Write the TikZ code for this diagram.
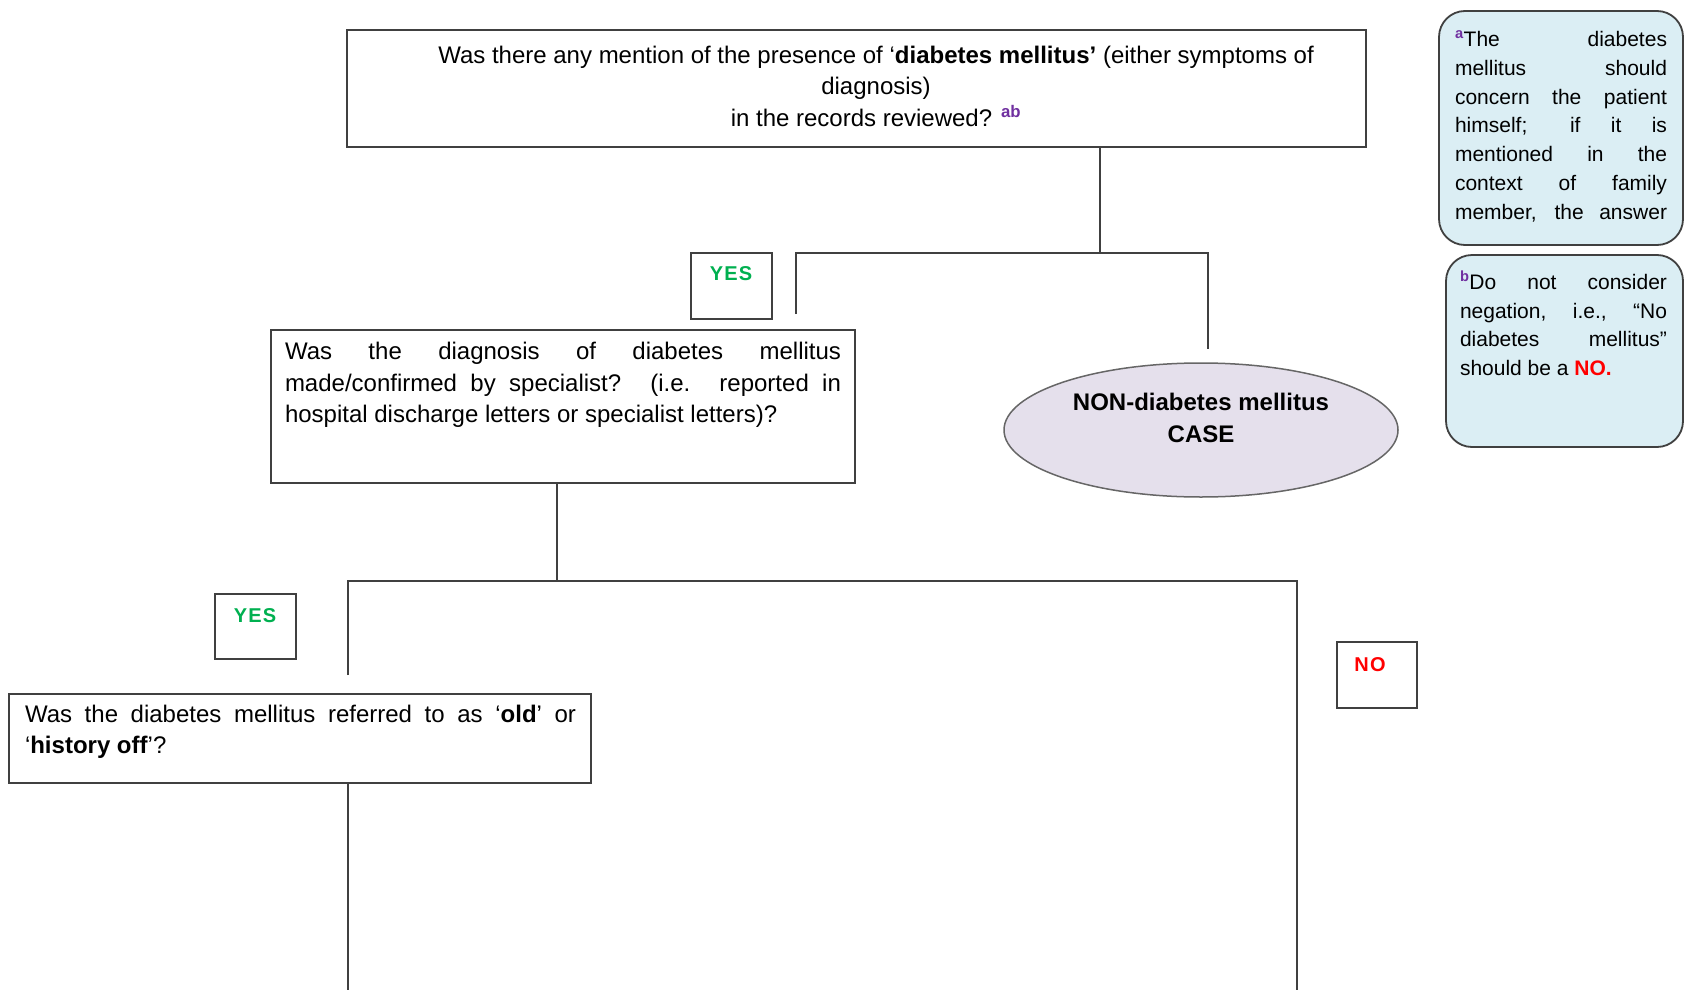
\documentclass[tikz,border=0pt]{standalone}
\usepackage{fontspec}
\setmainfont{Liberation Sans}
\usetikzlibrary{shapes.geometric}
\setlength\parindent{0pt}
\definecolor{linec}{HTML}{404040}
\definecolor{yesc}{HTML}{00B050}
\definecolor{noc}{HTML}{FF0000}
\definecolor{supc}{HTML}{7030A0}
\definecolor{notefill}{HTML}{DBEEF4}
\definecolor{casefill}{HTML}{E5E0EC}
\newcommand{\supmark}[1]{\textsuperscript{\color{supc}\bfseries #1}}
\tikzset{
  box/.style={draw=linec, line width=1.8pt, inner sep=0pt, fill=white},
  conn/.style={draw=linec, line width=1.8pt},
  qtext/.style={inner sep=0pt, font=\fontsize{24}{31.5}\selectfont},
  notebox/.style={draw=linec, line width=1.8pt, inner sep=0pt, fill=notefill, rounded corners=26pt},
  notetext/.style={inner sep=0pt, text width=212pt, align=justify, font=\fontsize{21}{28.8}\selectfont},
  answer/.style={inner sep=0pt, font=\fontsize{20}{24}\selectfont\bfseries\addfontfeature{LetterSpace=6}},
  casenode/.style={ellipse, draw=linec!80, line width=1.5pt, fill=casefill, inner sep=0pt}
}
\begin{document}
\begin{tikzpicture}[x=1pt,y=-1pt]
\useasboundingbox (0,0) rectangle (1686,990);
\fill[white] (0,0) rectangle (1686,990);

% question boxes and answer boxes
\node[box, minimum width=1019pt, minimum height=117pt] (q1) at (856.5,88.5) {};
\node[qtext, align=center] (q1t) at (876,86)
  {Was there any mention of the presence of ‘\textbf{diabetes mellitus’} (either symptoms of\\
   diagnosis)\\ in the records reviewed? \supmark{ab}};

\node[box, minimum width=81pt, minimum height=66pt] (yes1) at (731.5,286) {};
\node[answer, text=yesc] (yes1t) at (731,274) {YES};

\node[box, minimum width=584pt, minimum height=153pt] (q2) at (563,406.5) {};
\node[qtext, text width=556pt, align=justify] (q2t) at (563,385)
  {Was the diagnosis of diabetes mellitus\linebreak made/confirmed by specialist? (i.e. reported in\linebreak hospital discharge letters or specialist letters)?};

\node[casenode, minimum width=394pt, minimum height=134pt] (case) at (1201,430) {};
\node[qtext, align=center, font=\fontsize{24}{32}\selectfont\bfseries] (caset) at (1201,418)
  {NON-diabetes mellitus\\CASE};

\node[box, minimum width=81pt, minimum height=65pt] (yes2) at (255.5,626.5) {};
\node[answer, text=yesc] (yes2t) at (255,616) {YES};

\node[box, minimum width=80pt, minimum height=66pt] (no2) at (1377,675) {};
\node[answer, text=noc] (no2t) at (1370,665) {NO};

\node[box, minimum width=582pt, minimum height=89pt] (q3) at (300,738.5) {};
\node[qtext, text width=551pt, align=justify] (q3t) at (300.5,732)
  {Was the diabetes mellitus referred to as ‘\textbf{old}’ or\linebreak ‘\textbf{history off}’?};

% footnote boxes
\node[notebox, minimum width=244pt, minimum height=234pt] (notea) at (1561,128) {};
\node[notetext] (noteat) at (1561,126.5)
  {\supmark{a}The diabetes\linebreak mellitus should\linebreak concern the patient\linebreak himself; if it is\linebreak mentioned in the\linebreak context of family\linebreak \makebox[\linewidth][s]{member, the answer}};

\node[notebox, minimum width=237pt, minimum height=192pt] (noteb) at (1564.5,351) {};
\node[notetext, text width=207pt] (notebt) at (1563.5,323.5)
  {\supmark{b}Do not consider\linebreak negation, i.e., “No\linebreak diabetes mellitus”\linebreak should be a \textcolor{noc}{\textbf{NO.}}};

% connector junctions and open ends
\coordinate (j1) at (1100,253);
\coordinate (y1end) at (796,314);
\coordinate (n1end) at (1208,349);
\coordinate (j2) at (557,581);
\coordinate (y2end) at (348,675);
\coordinate (n2end) at (1297,990);
\coordinate (q3end) at (348,990);

\draw[conn] (q1.south -| j1) -- (j1);
\draw[conn] (y1end) -- (y1end |- j1) -- (n1end |- j1) -- (n1end);
\draw[conn] (q2.south -| j2) -- (j2);
\draw[conn] (y2end) -- (y2end |- j2) -- (n2end |- j2) -- (n2end);
\draw[conn] (q3.south -| q3end) -- (q3end);
\end{tikzpicture}
\end{document}
